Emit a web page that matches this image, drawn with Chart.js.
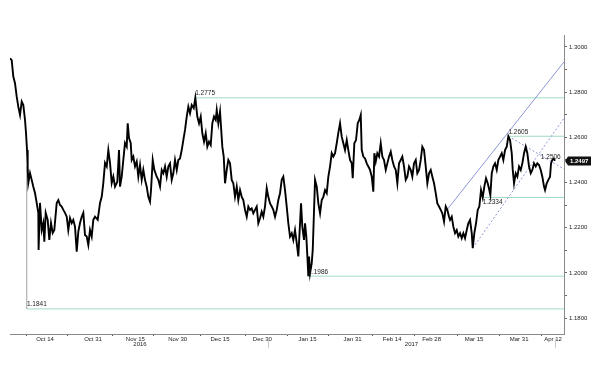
<!DOCTYPE html>
<html><head><meta charset="utf-8">
<script src="https://cdn.jsdelivr.net/npm/chart.js@4/dist/chart.umd.min.js"></script>
<style>html,body{margin:0;padding:0;background:#fff;}#wrap{width:600px;height:366px;position:relative;}</style>
</head><body><div id="wrap"><canvas id="c" width="600" height="366"></canvas></div>
<script>
// x values: days since 1 Oct 2016
const days = [0.6,1.2,1.77,2.37,2.98,3.54,4.15,4.75,5.32,5.92,6.27,6.63,6.87,7.09,7.69,8.29,8.86,9.46,10.06,10.63,10.73,11.23,11.84,12.40,12.76,13.25,13.96,14.53,15.13,15.73,16.30,17.15,17.72,18.32,18.92,19.49,20.09,20.70,21.26,21.86,22.47,23.03,23.64,24.24,24.81,25.41,26.01,26.58,27.18,27.78,28.35,28.95,29.55,30.12,30.72,31.68,32.50,33.10,33.66,34.27,34.87,35.44,36.04,36.64,37.21,37.81,38.63,39.23,39.58,40.18,40.75,41.35,41.96,42.31,42.77,43.37,43.73,44.29,44.90,45.50,46.07,46.67,47.27,47.84,48.44,49.04,49.61,50.21,50.57,51.17,51.74,52.59,53.15,53.76,54.36,54.93,55.53,56.13,56.70,57.30,57.90,58.47,59.07,59.68,60.24,60.84,61.45,62.01,62.62,63.22,63.79,64.39,64.99,65.70,66.27,66.97,67.58,68.18,68.75,69.35,69.95,70.52,71.12,71.72,72.29,72.89,73.49,73.85,74.42,75.02,75.37,75.83,76.33,76.79,77.39,77.96,78.56,79.16,79.73,80.33,80.94,81.50,82.10,82.71,83.27,83.88,84.48,85.05,85.65,86.25,86.82,87.42,88.02,88.59,89.19,89.79,90.36,90.96,91.57,92.13,92.74,93.34,93.91,94.51,95.11,95.68,96.28,96.88,97.45,98.05,98.65,99.22,99.82,100.43,100.99,101.59,102.20,102.76,103.37,103.72,104.18,104.78,105.14,105.60,106.09,106.31,106.56,106.91,107.51,107.87,108.33,108.69,109.29,109.86,110.46,111.06,111.63,112.23,112.83,113.40,114.00,114.60,115.17,115.77,116.37,116.94,117.54,118.14,118.71,119.31,119.92,120.48,121.09,121.69,122.04,122.61,123.21,123.81,124.38,124.88,125.23,125.80,126.40,127.00,127.57,128.17,128.78,129.34,129.70,130.19,130.76,131.36,131.96,132.53,133.13,133.74,134.30,134.91,135.51,136.07,136.68,137.28,137.85,138.45,139.05,139.62,140.22,140.82,141.39,141.99,142.59,143.16,143.76,144.37,144.93,145.54,146.14,146.70,147.31,147.91,148.48,149.08,149.68,150.25,150.85,151.45,152.02,152.62,153.22,153.79,154.39,154.99,155.56,156.16,156.52,157.12,157.69,158.29,158.89,159.46,160.06,160.66,161.23,161.83,162.44,163.00,163.61,164.21,164.56,165.13,165.73,166.33,166.90,167.50,168.10,168.67,169.27,169.87,170.44,170.80,171.30,171.86,172.47,173.07,173.63,174.24,174.84,175.41,176.01,176.61,177.18,177.78,178.38,178.74,179.20,179.80,180.37,180.97,181.57,182.14,182.74,183.34,183.91,184.51,185.11,185.68,186.28,186.88,187.45,188.05,188.66,189.22,189.83,190.18,190.78,191.35,191.95,192.30,192.76,193.26,193.72];
const closes = [1.2950,1.2942,1.2869,1.2840,1.2780,1.2736,1.2699,1.2758,1.2743,1.2677,1.2620,1.2544,1.2465,1.2398,1.2442,1.2412,1.2382,1.2354,1.2310,1.2266,1.2102,1.2310,1.2190,1.2221,1.2138,1.2266,1.2235,1.2146,1.2221,1.2177,1.2190,1.2310,1.2323,1.2301,1.2294,1.2279,1.2266,1.2249,1.2190,1.2243,1.2221,1.2235,1.2204,1.2094,1.2183,1.2221,1.2249,1.2266,1.2168,1.2161,1.2124,1.2190,1.2161,1.2235,1.2249,1.2235,1.2310,1.2337,1.2398,1.2487,1.2471,1.2544,1.2487,1.2398,1.2426,1.2382,1.2404,1.2544,1.2382,1.2426,1.2500,1.2575,1.2559,1.2662,1.2597,1.2575,1.2500,1.2515,1.2471,1.2493,1.2426,1.2478,1.2412,1.2456,1.2412,1.2382,1.2337,1.2315,1.2367,1.2500,1.2456,1.2426,1.2412,1.2382,1.2456,1.2441,1.2471,1.2426,1.2471,1.2485,1.2412,1.2441,1.2500,1.2456,1.2500,1.2507,1.2544,1.2588,1.2633,1.2692,1.2736,1.2707,1.2743,1.2729,1.2775,1.2692,1.2662,1.2692,1.2618,1.2581,1.2618,1.2559,1.2581,1.2566,1.2662,1.2692,1.2677,1.2721,1.2662,1.2714,1.2647,1.2559,1.2515,1.2397,1.2456,1.2500,1.2485,1.2412,1.2397,1.2337,1.2382,1.2323,1.2367,1.2337,1.2323,1.2279,1.2249,1.2294,1.2279,1.2286,1.2264,1.2279,1.2294,1.2220,1.2242,1.2271,1.2249,1.2294,1.2375,1.2337,1.2308,1.2294,1.2279,1.2249,1.2279,1.2323,1.2353,1.2412,1.2426,1.2367,1.2294,1.2220,1.2161,1.2176,1.2146,1.2190,1.2132,1.2073,1.2220,1.2308,1.2205,1.2146,1.2220,1.2161,1.2044,1.1986,1.2073,1.1998,1.2044,1.2102,1.2279,1.2412,1.2382,1.2308,1.2264,1.2323,1.2337,1.2367,1.2353,1.2426,1.2471,1.2530,1.2515,1.2530,1.2574,1.2620,1.2662,1.2603,1.2574,1.2544,1.2588,1.2544,1.2500,1.2485,1.2419,1.2574,1.2588,1.2662,1.2677,1.2699,1.2544,1.2515,1.2507,1.2485,1.2471,1.2456,1.2426,1.2360,1.2530,1.2493,1.2530,1.2515,1.2574,1.2515,1.2500,1.2456,1.2485,1.2515,1.2537,1.2500,1.2471,1.2456,1.2397,1.2485,1.2500,1.2515,1.2471,1.2412,1.2426,1.2471,1.2456,1.2426,1.2485,1.2500,1.2441,1.2456,1.2500,1.2559,1.2544,1.2471,1.2397,1.2441,1.2456,1.2426,1.2397,1.2353,1.2308,1.2294,1.2279,1.2264,1.2227,1.2294,1.2279,1.2249,1.2235,1.2249,1.2205,1.2176,1.2190,1.2161,1.2176,1.2154,1.2176,1.2154,1.2190,1.2220,1.2235,1.2176,1.2110,1.2176,1.2220,1.2279,1.2294,1.2367,1.2334,1.2382,1.2419,1.2397,1.2367,1.2345,1.2441,1.2471,1.2485,1.2456,1.2500,1.2515,1.2530,1.2500,1.2544,1.2559,1.2605,1.2588,1.2530,1.2456,1.2397,1.2441,1.2426,1.2471,1.2456,1.2485,1.2530,1.2559,1.2530,1.2471,1.2441,1.2456,1.2485,1.2471,1.2485,1.2478,1.2456,1.2426,1.2382,1.2367,1.2397,1.2412,1.2426,1.2485,1.2500,1.2506,1.2497];

// flash-crash wick (7 Oct 2016)
const crashDay = 6.5;
const crashRange = [1.2470, 1.1841];

// x-axis labels
const tickLabels = ['Oct 14','Oct 31','Nov 15','Nov 30','Dec 15','Dec 30','Jan 15','Jan 31','Feb 14','Feb 28','Mar 15','Mar 31','Apr 12'];
const tickDays   = [13, 30, 45, 60, 75, 90, 106, 122, 136, 150, 165, 181, 193];
const minorTickDays = [6.6, 21, 37, 51.5, 68, 84, 99, 113.5, 129, 144, 159, 174, 189];
const years = ['2016', '2017'];
const yearStartDay = 92; // 1 Jan 2017

// horizontal levels
const levelValues    = [1.2775, 1.2605, 1.2334, 1.1986, 1.1841];
const levelStartDays = [66.2, 177.2, 168.1, 106.3, 6.6];
const levelTextBelow = [false, false, true, false, false];

// trend lines [day, value]
const upperChannel = [[155.4, 1.2279], [196.9, 1.2934]];
const lowerChannel = [[164.56, 1.2110], [196.9, 1.2685]];
const resistance   = [[177.2, 1.2605], [196.9, 1.2460]];

// point note and last price
const noteDay = 188.7, noteValue = 1.2506;
const lastPrice = 1.2497;

const X_MIN = 0.6, X_MAX = 196.9, Y_MIN = 1.1730, Y_MAX = 1.3053;

const FONT = '"Liberation Sans", Arial, sans-serif';
const series = days.map((d, i) => ({x: d, y: closes[i]}));
const toPts = arr => arr.map(p => ({x: p[0], y: p[1]}));
const LEVEL_COL = '#9fdcc3', TREND_COL = '#8d97d6';

const datasets = [
  {data: series, borderColor: '#000', borderWidth: 1.9, pointRadius: 0, tension: 0},
  {data: [{x: crashDay, y: crashRange[0]}, {x: crashDay, y: crashRange[1]}], borderColor: '#b8b8b8', borderWidth: 1, pointRadius: 0},
  {data: toPts(upperChannel), borderColor: TREND_COL, borderWidth: 1, pointRadius: 0},
  {data: toPts(lowerChannel), borderColor: TREND_COL, borderWidth: 1, borderDash: [2, 2], pointRadius: 0},
  {data: toPts(resistance), borderColor: TREND_COL, borderWidth: 1, borderDash: [2, 2], pointRadius: 0},
];
levelValues.forEach((v, i) => datasets.push({
  data: [{x: levelStartDays[i], y: v}, {x: X_MAX, y: v}],
  borderColor: LEVEL_COL, borderWidth: 1, pointRadius: 0
}));

const allTicks = tickDays.concat(minorTickDays).sort((a, b) => a - b);

const overlay = {
  id: 'overlay',
  afterDraw(chart) {
    const {ctx, scales: {x, y}, chartArea} = chart;
    ctx.save();
    ctx.font = '6.5px ' + FONT;
    ctx.fillStyle = '#222';
    ctx.textAlign = 'left';
    levelValues.forEach((v, i) => {
      const px = x.getPixelForValue(levelStartDays[i]);
      const py = y.getPixelForValue(v);
      if (levelTextBelow[i]) { ctx.textBaseline = 'top'; ctx.fillText(v.toFixed(4), px, py + 1.5); }
      else { ctx.textBaseline = 'bottom'; ctx.fillText(v.toFixed(4), px, py - 1); }
    });
    ctx.textBaseline = 'middle';
    ctx.fillText(noteValue.toFixed(4), x.getPixelForValue(noteDay), y.getPixelForValue(noteValue) - 1);

    // last price tag
    const r = chartArea.right, lp = Math.round(y.getPixelForValue(lastPrice));
    ctx.fillStyle = '#111';
    ctx.beginPath();
    ctx.moveTo(r + 1, lp); ctx.lineTo(r + 4, lp - 4.5); ctx.lineTo(r + 27, lp - 4.5);
    ctx.lineTo(r + 27, lp + 4.5); ctx.lineTo(r + 4, lp + 4.5); ctx.closePath(); ctx.fill();
    ctx.fillStyle = '#fff';
    ctx.font = 'bold 6px ' + FONT;
    ctx.fillText(lastPrice.toFixed(4), r + 6, lp + 0.5);

    // years
    ctx.fillStyle = '#222';
    ctx.font = '6px ' + FONT;
    ctx.textAlign = 'center';
    const yx0 = x.getPixelForValue(X_MIN), yx1 = x.getPixelForValue(yearStartDay), yx2 = x.getPixelForValue(days[days.length - 1]);
    ctx.fillText(years[0], (yx0 + yx1) / 2 + 1, 344);
    ctx.fillText(years[1], (yx1 + yx2) / 2, 344);
    ctx.strokeStyle = '#c8c8c8'; ctx.lineWidth = 1;
    [yx1, yx2].forEach(px => { ctx.beginPath(); ctx.moveTo(Math.round(px) + 0.5, 339); ctx.lineTo(Math.round(px) + 0.5, 348); ctx.stroke(); });
    ctx.restore();
  }
};

new Chart(document.getElementById('c'), {
  type: 'line',
  data: {datasets},
  options: {
    responsive: false, animation: false,
    layout: {padding: {left: 10, top: 35, right: 0, bottom: 0}},
    plugins: {legend: {display: false}, tooltip: {enabled: false}},
    scales: {
      x: {
        type: 'linear', min: X_MIN, max: X_MAX, position: 'bottom',
        border: {display: true, color: '#8a8a8a', width: 1},
        grid: {drawOnChartArea: false, tickLength: 2,
          color: c => (c.tick && minorTickDays.includes(c.tick.value)) ? '#555' : 'rgba(0,0,0,0)'},
        afterBuildTicks: s => { s.ticks = allTicks.map(v => ({value: v})); },
        afterFit: s => { s.height = 32; },
        ticks: {autoSkip: false, maxRotation: 0, padding: 0, color: '#222', font: {family: FONT, size: 6},
          callback: v => { const i = tickDays.indexOf(v); return i >= 0 ? tickLabels[i] : ''; }}
      },
      y: {
        type: 'linear', min: Y_MIN, max: Y_MAX, position: 'right',
        border: {display: true, color: '#8a8a8a', width: 1},
        grid: {drawOnChartArea: false, tickLength: 3, color: '#666'},
        afterFit: s => { s.width = 36; },
        ticks: {stepSize: 0.01, includeBounds: false, padding: 2, color: '#222', font: {family: FONT, size: 6},
          callback: v => (Math.round(v * 100) % 2 === 0) ? v.toFixed(4) : ''}
      }
    }
  },
  plugins: [overlay]
});
</script>
</body></html>
